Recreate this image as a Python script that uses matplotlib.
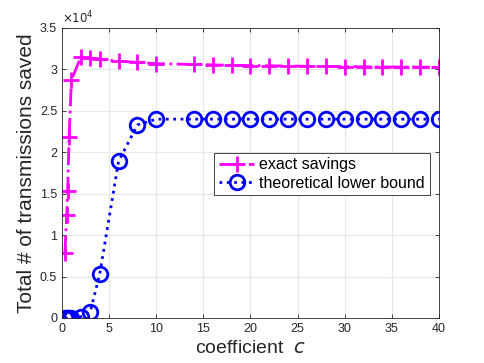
import matplotlib
matplotlib.use("Agg")
import matplotlib.pyplot as plt
from matplotlib.ticker import FuncFormatter

plt.rcParams["font.family"] = ["Liberation Sans", "DejaVu Sans"]

# Data
coef = [0.3, 0.5, 0.6, 0.75, 1, 2, 3, 4, 6, 8, 10,
        14, 16, 18, 20, 22, 24, 26, 28, 30, 32, 34, 36, 38, 40]
exact_savings = [7800, 12400, 15300, 21800, 28700, 31500, 31400, 31200,
                 31000, 30850, 30700, 30600, 30550, 30500, 30470, 30440,
                 30410, 30380, 30360, 30340, 30320, 30300, 30290, 30280, 30260]
lower_bound = [0, 0, 0, 0, 0, 150, 750, 5300, 18900, 23300, 24000,
               24000, 24000, 24000, 24000, 24000, 24000, 24000, 24000,
               24000, 24000, 24000, 24000, 24000, 24000]

fig = plt.figure(figsize=(4.85, 3.63), dpi=100)
ax = fig.add_axes([62 / 485, 1 - 318 / 363, 377 / 485, 290 / 363])

axis_gray = "#262626"

ax.plot(coef, exact_savings, color="magenta", linestyle="-.", linewidth=2,
        marker="+", markersize=12, markeredgewidth=2, label="exact savings")
ax.plot(coef, lower_bound, color="blue", linestyle=":", linewidth=2,
        marker="o", markersize=10.5, markeredgewidth=2, markerfacecolor="none",
        label="theoretical lower bound")

ax.set_xlim(0, 40)
ax.set_ylim(0, 35000)
ax.set_xticks(range(0, 41, 5))
ax.set_yticks(range(0, 35001, 5000))
ax.yaxis.set_major_formatter(FuncFormatter(lambda v, p: f"{v / 1e4:g}"))
ax.text(0, 1.005, r"$\times10^4$", transform=ax.transAxes, fontsize=8.5,
        color=axis_gray, ha="left", va="bottom")

ax.grid(True, color="#e6e6e6", linewidth=0.8)
ax.set_axisbelow(True)
for s in ax.spines.values():
    s.set_color(axis_gray)
    s.set_linewidth(0.6)
ax.tick_params(direction="in", top=True, right=True, labelsize=9,
               colors=axis_gray, length=3, width=0.6)

ax.set_xlabel("coefficient  $c$", fontsize=14, color=axis_gray, labelpad=4)
ax.set_ylabel("Total # of transmissions saved", fontsize=15, color=axis_gray,
              labelpad=3)

leg = ax.legend(loc="upper right", bbox_to_anchor=(0.975, 0.57), fontsize=11.5,
                fancybox=False, framealpha=1, edgecolor=axis_gray,
                handlelength=2.2, handletextpad=0.3, borderpad=0.3,
                labelspacing=0.2, borderaxespad=0)
leg.get_frame().set_linewidth(0.6)

fig.savefig("out.png", dpi=100)
